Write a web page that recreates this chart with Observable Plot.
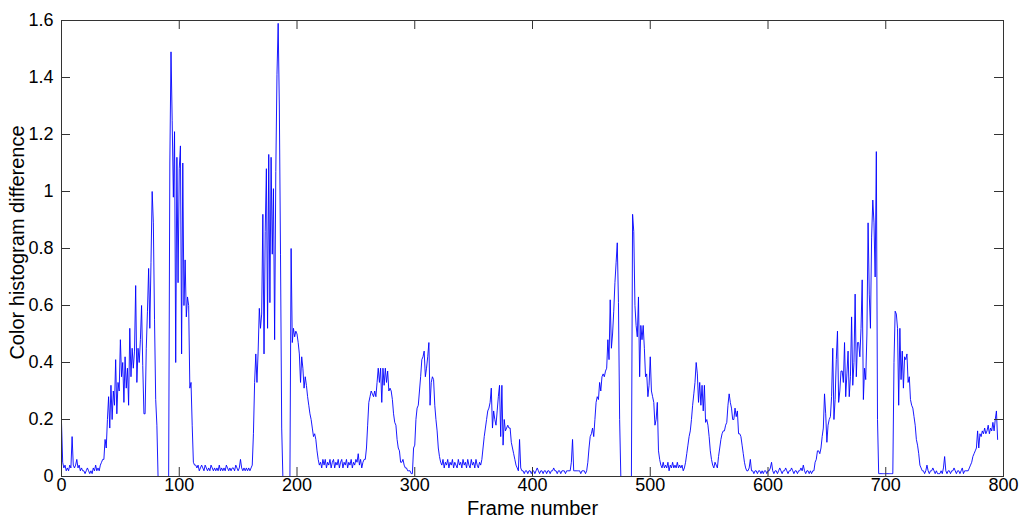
<!DOCTYPE html>
<html>
<head>
<meta charset="utf-8">
<script src="https://cdn.jsdelivr.net/npm/d3@7"></script>
<script src="https://cdn.jsdelivr.net/npm/@observablehq/plot@0.6"></script>
<style>
html, body { margin: 0; padding: 0; background: #fff; }
</style>
</head>
<body>
<div id="chart"></div>
<script>
// Colour histogram difference, one value per frame (frame = index)
const diff = [
/*   0 */ 0.19,0.05,0.03,0.04,0.02,0.03,0.02,0.04,0.03,0.14,
/*  10 */ 0.04,0.03,0.04,0.06,0.03,0.04,0.02,0.03,0.02,0.02,
/*  20 */ 0.01,0.02,0.03,0.02,0.01,0.02,0.01,0.03,0.02,0.04,
/*  30 */ 0.02,0.03,0.02,0.04,0.05,0.06,0.06,0.13,0.10,0.20,
/*  40 */ 0.28,0.17,0.32,0.20,0.30,0.25,0.41,0.22,0.33,0.30,
/*  50 */ 0.48,0.35,0.40,0.26,0.42,0.31,0.38,0.25,0.52,0.35,
/*  60 */ 0.45,0.38,0.44,0.67,0.33,0.45,0.40,0.48,0.60,0.39,
/*  70 */ 0.22,0.22,0.45,0.58,0.73,0.52,0.75,1.00,0.89,0.55,
/*  80 */ 0.27,0.18,0,0,0,0,0,0,0,0,
/*  90 */ 0,0,1.10,1.49,1.25,0.98,1.21,0.40,1.12,0.68,
/* 100 */ 1.08,1.16,0.43,1.10,0.60,0.76,0.56,0.63,0.60,0.31,
/* 110 */ 0.33,0.18,0.05,0.04,0.04,0.03,0.04,0.02,0.03,0.04,
/* 120 */ 0.03,0.02,0.04,0.03,0.02,0.03,0.02,0.04,0.03,0.02,
/* 130 */ 0.03,0.02,0.03,0.02,0.04,0.02,0.03,0.02,0.03,0.02,
/* 140 */ 0.04,0.03,0.02,0.03,0.02,0.03,0.03,0.02,0.04,0.03,
/* 150 */ 0.02,0.03,0.06,0.03,0.02,0.03,0.02,0.03,0.02,0.03,
/* 160 */ 0.02,0.03,0.04,0.15,0.33,0.43,0.33,0.44,0.59,0.52,
/* 170 */ 0.57,0.92,0.43,0.86,1.08,0.52,1.13,0.61,1.12,0.78,
/* 180 */ 1.01,0.48,1.07,1.41,1.59,1.30,0.78,0.17,0,0,
/* 190 */ 0,0,0,0,0,0.80,0.47,0.52,0.49,0.51,
/* 200 */ 0.50,0.47,0.43,0.33,0.42,0.38,0.31,0.35,0.32,0.28,
/* 210 */ 0.25,0.22,0.20,0.17,0.14,0.15,0.13,0.09,0.06,0.04,
/* 220 */ 0.05,0.03,0.06,0.04,0.06,0.03,0.05,0.04,0.06,0.03,
/* 230 */ 0.05,0.06,0.03,0.05,0.04,0.06,0.03,0.05,0.06,0.03,
/* 240 */ 0.05,0.04,0.06,0.03,0.05,0.04,0.06,0.03,0.05,0.04,
/* 250 */ 0.06,0.05,0.08,0.04,0.06,0.03,0.05,0.06,0.06,0.10,
/* 260 */ 0.18,0.26,0.28,0.30,0.29,0.28,0.30,0.28,0.33,0.38,
/* 270 */ 0.33,0.38,0.26,0.38,0.32,0.38,0.33,0.37,0.30,0.31,
/* 280 */ 0.30,0.27,0.22,0.19,0.18,0.13,0.10,0.09,0.05,0.05,
/* 290 */ 0.06,0.04,0.03,0.03,0.02,0.02,0.02,0.01,0.01,0.10,
/* 300 */ 0.11,0.20,0.24,0.25,0.30,0.35,0.41,0.42,0.44,0.35,
/* 310 */ 0.38,0.42,0.47,0.25,0.33,0.35,0.34,0.25,0.20,0.16,
/* 320 */ 0.10,0.07,0.05,0.04,0.06,0.03,0.05,0.04,0.06,0.03,
/* 330 */ 0.05,0.04,0.06,0.03,0.05,0.04,0.03,0.06,0.04,0.05,
/* 340 */ 0.03,0.06,0.04,0.05,0.03,0.06,0.04,0.03,0.06,0.04,
/* 350 */ 0.05,0.03,0.06,0.04,0.03,0.05,0.04,0.06,0.10,0.14,
/* 360 */ 0.17,0.20,0.23,0.24,0.26,0.31,0.17,0.23,0.20,0.18,
/* 370 */ 0.23,0.28,0.32,0.14,0.32,0.11,0.20,0.16,0.17,0.18,
/* 380 */ 0.17,0.17,0.12,0.10,0.08,0.06,0.04,0.03,0.02,0.13,
/* 390 */ 0.03,0.02,0.02,0.01,0.02,0.02,0.01,0.02,0.02,0.01,
/* 400 */ 0.02,0.02,0.01,0.02,0.03,0.02,0.01,0.02,0.02,0.01,
/* 410 */ 0.02,0.02,0.01,0.02,0.02,0.01,0.02,0.02,0.03,0.02,
/* 420 */ 0.02,0.01,0.02,0.02,0.01,0.02,0.02,0.02,0.01,0.02,
/* 430 */ 0.02,0.02,0.02,0.05,0.13,0.02,0.02,0.02,0.02,0.02,
/* 440 */ 0.02,0.01,0.02,0.02,0.02,0.01,0.02,0.05,0.10,0.14,
/* 450 */ 0.15,0.17,0.14,0.20,0.26,0.28,0.27,0.33,0.30,0.35,
/* 460 */ 0.36,0.35,0.37,0.38,0.48,0.41,0.62,0.45,0.50,0.58,
/* 470 */ 0.68,0.75,0.82,0.61,0.20,0,0,0,0,0,
/* 480 */ 0,0,0,0,0,0.92,0.86,0.60,0.53,0.49,
/* 490 */ 0.63,0.35,0.53,0.48,0.53,0.45,0.35,0.36,0.28,0.32,
/* 500 */ 0.42,0.30,0.28,0.26,0.18,0.20,0.26,0.09,0.06,0.04,
/* 510 */ 0.03,0.05,0.03,0.04,0.03,0.05,0.02,0.04,0.03,0.05,
/* 520 */ 0.03,0.04,0.03,0.05,0.03,0.04,0.03,0.04,0.02,0.03,
/* 530 */ 0.05,0.08,0.11,0.14,0.16,0.20,0.25,0.29,0.33,0.40,
/* 540 */ 0.36,0.26,0.33,0.25,0.32,0.23,0.32,0.19,0.20,0.18,
/* 550 */ 0.14,0.09,0.06,0.04,0.03,0.05,0.04,0.03,0.07,0.10,
/* 560 */ 0.13,0.15,0.16,0.16,0.18,0.19,0.25,0.29,0.26,0.24,
/* 570 */ 0.20,0.20,0.24,0.21,0.23,0.15,0.15,0.14,0.11,0.08,
/* 580 */ 0.05,0.03,0.02,0.02,0.03,0.06,0.02,0.02,0.01,0.02,
/* 590 */ 0.02,0.01,0.02,0.02,0.01,0.02,0.01,0.02,0.02,0.01,
/* 600 */ 0.02,0.02,0.03,0.05,0.02,0.01,0.02,0.02,0.01,0.02,
/* 610 */ 0.03,0.02,0.01,0.02,0.02,0.03,0.02,0.01,0.02,0.02,
/* 620 */ 0.03,0.02,0.01,0.02,0.02,0.01,0.02,0.02,0.03,0.02,
/* 630 */ 0.04,0.02,0.01,0.02,0.02,0.01,0.02,0.01,0.02,0.02,
/* 640 */ 0.05,0.06,0.09,0.09,0.08,0.10,0.14,0.17,0.29,0.22,
/* 650 */ 0.12,0.18,0.20,0.21,0.28,0.45,0.20,0.27,0.41,0.51,
/* 660 */ 0.26,0.30,0.37,0.37,0.33,0.47,0.28,0.36,0.44,0.28,
/* 670 */ 0.35,0.56,0.32,0.40,0.64,0.35,0.47,0.47,0.42,0.52,
/* 680 */ 0.69,0.27,0.38,0.34,0.50,0.89,0.64,0.52,0.84,0.97,
/* 690 */ 0.89,0.70,1.14,0.20,0.01,0.01,0.01,0.01,0.01,0.01,
/* 700 */ 0.01,0.01,0.01,0.01,0.01,0.01,0.01,0.40,0.58,0.57,
/* 710 */ 0.52,0.25,0.52,0.34,0.44,0.31,0.42,0.41,0.43,0.33,
/* 720 */ 0.35,0.27,0.25,0.24,0.21,0.18,0.13,0.11,0.08,0.04,
/* 730 */ 0.03,0.02,0.02,0.01,0.02,0.04,0.02,0.01,0.02,0.02,
/* 740 */ 0.03,0.02,0.01,0.02,0.01,0.01,0.01,0.02,0.01,0.03,
/* 750 */ 0.07,0.02,0.01,0.02,0.02,0.01,0.02,0.02,0.03,0.02,
/* 760 */ 0.01,0.02,0.02,0.01,0.02,0.03,0.01,0.02,0.02,0.02,
/* 770 */ 0.02,0.03,0.04,0.05,0.07,0.08,0.09,0.10,0.16,0.10,
/* 780 */ 0.15,0.14,0.16,0.15,0.17,0.15,0.16,0.18,0.15,0.17,
/* 790 */ 0.16,0.19,0.16,0.20,0.23,0.13
];

const xTicks = [0, 100, 200, 300, 400, 500, 600, 700, 800];
const yTicks = [0, 0.2, 0.4, 0.6, 0.8, 1, 1.2, 1.4, 1.6];
const xLabel = "Frame number";
const yLabel = "Color histogram difference";

const data = diff.map((d, i) => ({frame: i, diff: d}));

const W = 1024, H = 521;
const mL = 61, mR = 21, mT = 20, mB = 45;
const innerW = W - mL - mR, innerH = H - mT - mB;
const tickLen = 9;
const axisColor = "#333";

const chart = Plot.plot({
  width: W,
  height: H,
  marginLeft: mL,
  marginRight: mR,
  marginTop: mT,
  marginBottom: mB,
  style: {
    fontFamily: "'Liberation Sans', Arial, sans-serif",
    fontSize: "18px",
    background: "#fff",
    color: "#000",
    overflow: "visible"
  },
  x: {domain: [0, 800]},
  y: {domain: [0, 1.6]},
  marks: [
    Plot.line(data, {x: "frame", y: "diff", stroke: "#0000ff", strokeWidth: 0.9}),
    Plot.ruleX(xTicks, {insetTop: innerH - tickLen, stroke: axisColor}),
    Plot.ruleX(xTicks, {insetBottom: innerH - tickLen, stroke: axisColor}),
    Plot.ruleY(yTicks, {insetRight: innerW - tickLen, stroke: axisColor}),
    Plot.ruleY(yTicks, {insetLeft: innerW - tickLen, stroke: axisColor}),
    Plot.frame({stroke: axisColor}),
    Plot.axisX({ticks: xTicks, tickSize: 0, tickPadding: 2, tickFormat: d => String(d), label: null, fontSize: 18, fill: "#000"}),
    Plot.axisY({ticks: yTicks, tickSize: 0, tickPadding: 8, tickFormat: d => String(d), label: null, fontSize: 18, fill: "#000"}),
    Plot.text([xLabel], {frameAnchor: "bottom", lineAnchor: "middle", textAnchor: "middle", dy: 32, fontSize: 20, fill: "#000"}),
    Plot.text([yLabel], {frameAnchor: "left", lineAnchor: "middle", textAnchor: "middle", rotate: -90, dx: -44, dy: -6, fontSize: 20, fill: "#000"})
  ]
});

document.getElementById("chart").appendChild(chart);
</script>
</body>
</html>
